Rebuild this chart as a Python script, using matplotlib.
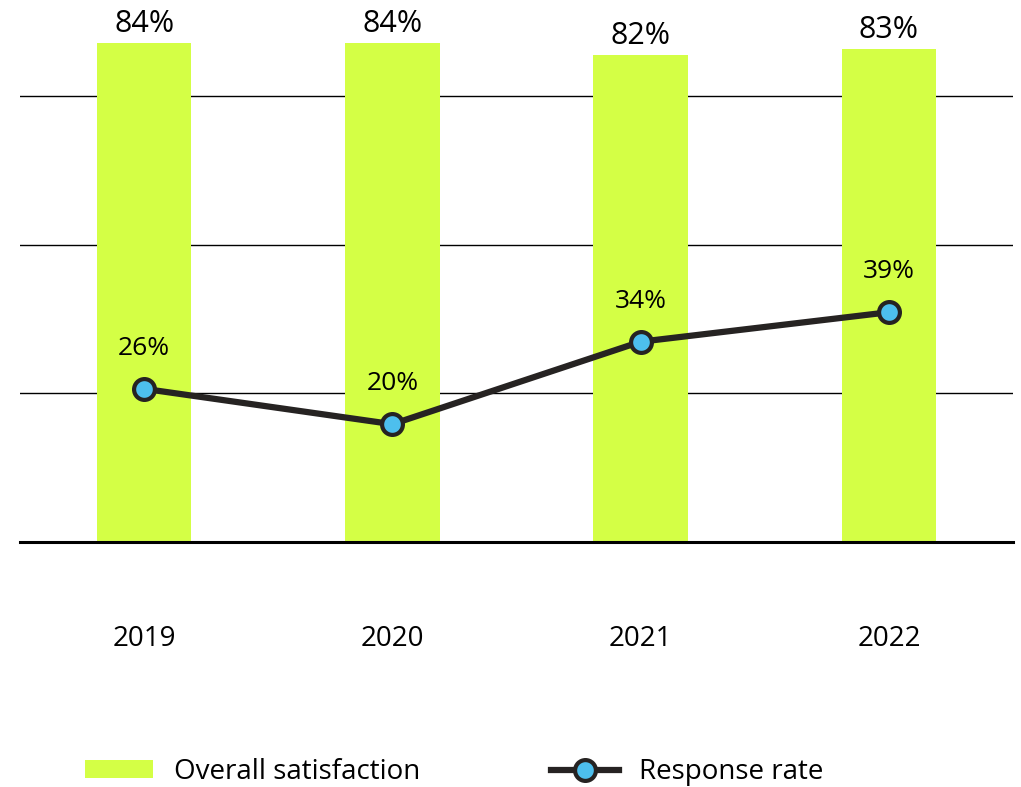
import matplotlib.pyplot as plt
import numpy as np

years = ["2019", "2020", "2021", "2022"]
satisfaction = [84, 84, 82, 83]
response_rate = [26, 20, 34, 39]

bar_color = "#D4FF45"
line_color = "#262322"
marker_color = "#4DBFED"

plt.rcParams["font.family"] = ["Open Sans", "DejaVu Sans"]

fig = plt.figure(figsize=(10.21, 7.87), dpi=100)
ax = fig.add_axes([20 / 1021, 1 - 542 / 787, 993 / 1021, 542 / 787])
x = np.arange(len(years))

for g in [25, 50, 75]:
    ax.axhline(g, color="black", lw=1, zorder=0)
bars = ax.bar(x, satisfaction, width=0.38, color=bar_color, zorder=1, label="Overall satisfaction")
ax.axhline(0, color="black", lw=2.2, zorder=3, clip_on=False)
ax.bar_label(bars, labels=[f"{v}%" for v in satisfaction], padding=3, fontsize=22, clip_on=False)

ax.set_xlim(-0.5, 3.5)
ax.set_ylim(0, 91.2)
ax.set_xticks(x)
ax.set_xticklabels(years, fontsize=20)
ax.tick_params(axis="x", length=0, pad=60)
ax.set_yticks([])
for s in ax.spines.values():
    s.set_visible(False)

ax2 = ax.twinx()
ax2.set_ylim(0.0, 92)
ax2.plot(x, response_rate, color=line_color, lw=4.5, marker="o", markersize=15,
         markerfacecolor=marker_color, markeredgecolor=line_color, markeredgewidth=3,
         label="Response rate", zorder=4)
for xi, v in zip(x, response_rate):
    ax2.annotate(f"{v}%", (xi, v), xytext=(0, 20), textcoords="offset points",
                 ha="center", va="bottom", fontsize=19)
ax2.set_yticks([])
for s in ax2.spines.values():
    s.set_visible(False)

h1, l1 = ax.get_legend_handles_labels()
h2, l2 = ax2.get_legend_handles_labels()
fig.legend(h1 + h2, l1 + l2, loc="center", bbox_to_anchor=(0.445, 0.019), ncol=2,
           frameon=False, fontsize=20, handlelength=2.45, handletextpad=0.75,
           columnspacing=4.7, handleheight=0.6)

fig.savefig("out.png", dpi=100)
